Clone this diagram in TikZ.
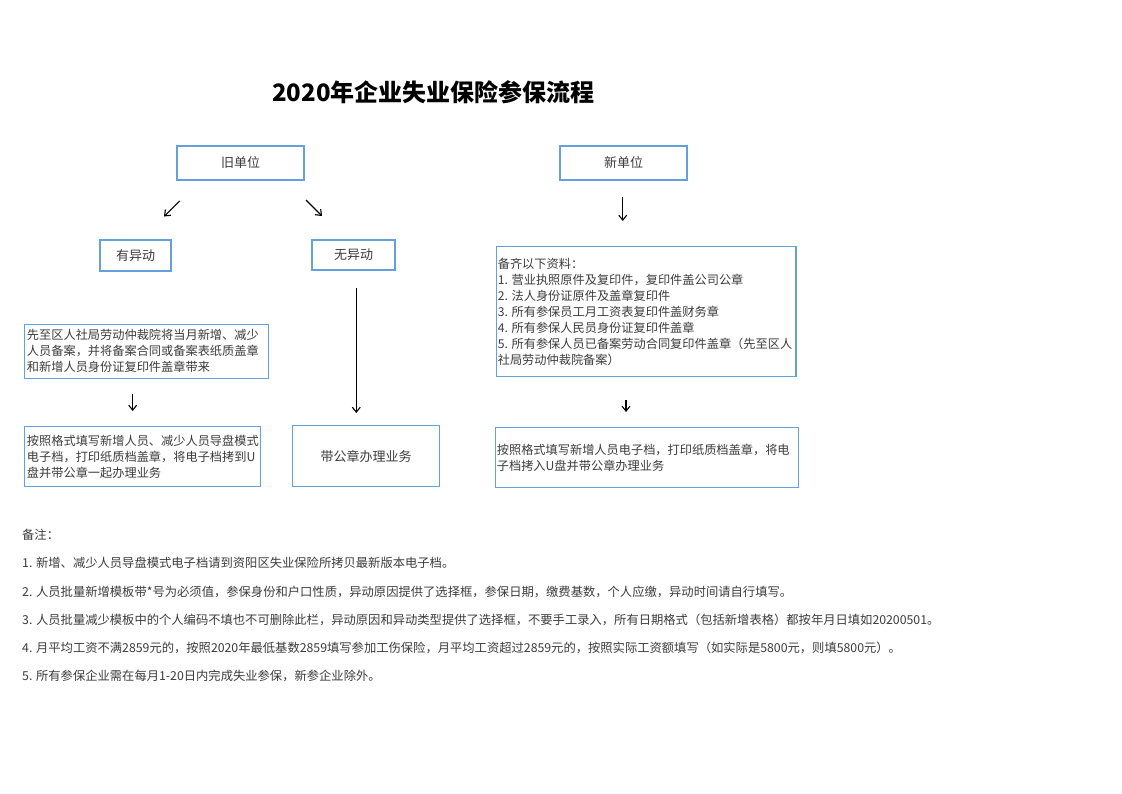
\documentclass[tikz,border=0pt]{standalone}
\usepackage{fontspec}
\setmainfont{Noto Sans CJK SC}
\usetikzlibrary{arrows.meta}
\definecolor{boxblue}{RGB}{100,160,220}
\definecolor{txtgray}{RGB}{60,60,60}
\tikzset{
  box/.style={draw=boxblue, line width=1.1pt, rectangle, inner sep=0pt},
  boxtxt/.style={anchor=west, inner sep=0pt, align=left, text=txtgray, font=\fontsize{12.2}{16}\selectfont},
  ctxt/.style={inner sep=0pt, text=txtgray, font=\fontsize{13}{16}\selectfont},
  note/.style={anchor=west, inner sep=0pt, text=txtgray, font=\fontsize{12.3}{16}\selectfont},
  arr/.style={-{Straight Barb[length=5pt,width=8pt]}, line width=1.1pt, black}
}
\begin{document}
\begin{tikzpicture}[x=1pt,y=-1pt]
\useasboundingbox (0,0) rectangle (1122,793);
\fill[white] (0,0) rectangle (1122,793);
% title
\node[anchor=west, inner sep=0pt, font=\fontsize{24}{26}\selectfont\bfseries] (title) at (272,92) {2020年企业失业保险参保流程};
% top boxes
\node[box, minimum width=127pt, minimum height=34pt] (old) at (240.5,163) {};
\node[ctxt] (oldt) at (old.center) {旧单位};
\node[box, minimum width=127pt, minimum height=34pt] (new) at (623.5,163) {};
\node[ctxt] (newt) at (new.center) {新单位};
\node[box, minimum width=71pt, minimum height=31pt] (chg) at (135.5,255.5) {};
\node[ctxt] (chgt) at (chg.center) {有异动};
\node[box, minimum width=83pt, minimum height=30pt] (nochg) at (353.5,255) {};
\node[ctxt] (nochgt) at (nochg.center) {无异动};
% left column
\node[box, minimum width=244.4pt, minimum height=54.3pt] (l1) at (146.5,351.2) {};
\node[boxtxt] (l1t) at ([xshift=3pt]l1.west) {先至区人社局劳动仲裁院将当月新增、减少\\人员备案，并将备案合同或备案表纸质盖章\\和新增人员身份证复印件盖章带来};
\node[box, minimum width=236pt, minimum height=60pt] (l2) at (142.3,456.7) {};
\node[boxtxt] (l2t) at ([xshift=3pt]l2.west) {按照格式填写新增人员、减少人员导盘模式\\电子档，打印纸质档盖章，将电子档拷到U\\盘并带公章一起办理业务};
% middle
\node[box, minimum width=146.6pt, minimum height=61pt] (m1) at (366,456.2) {};
\node[ctxt] (m1t) at (m1.center) {带公章办理业务};
% right column
\node[box, minimum width=299.3pt, minimum height=130pt] (r1) at (646.3,311.7) {};
\node[boxtxt] (r1t) at ([xshift=1.5pt]r1.west) {备齐以下资料：\\1. 营业执照原件及复印件，复印件盖公司公章\\2. 法人身份证原件及盖章复印件\\3. 所有参保员工月工资表复印件盖财务章\\4. 所有参保人民员身份证复印件盖章\\5. 所有参保人员已备案劳动合同复印件盖章（先至区人\\社局劳动仲裁院备案）};
\node[box, minimum width=303pt, minimum height=59.6pt] (r2) at (647.2,457.5) {};
\node[boxtxt] (r2t) at ([xshift=1.5pt]r2.west) {按照格式填写新增人员电子档，打印纸质档盖章，将电\\子档拷入U盘并带公章办理业务};
% arrows (free-standing)
\coordinate (a1s) at (179.7,201); \coordinate (a1e) at (164,216.5);
\coordinate (a2s) at (306,200); \coordinate (a2e) at (322,216);
\coordinate (a3s) at (622.7,197); \coordinate (a3e) at (622.7,221);
\coordinate (a4s) at (132.7,394); \coordinate (a4e) at (132.7,411);
\coordinate (a5s) at (356.3,288); \coordinate (a5e) at (356.3,413);
\coordinate (a6s) at (626,399.5); \coordinate (a6e) at (626,412);
\draw[arr] (a1s) -- (a1e);
\draw[arr] (a2s) -- (a2e);
\draw[arr] (a3s) -- (a3e);
\draw[arr] (a4s) -- (a4e);
\draw[arr] (a5s) -- (a5e);
\draw[arr] (a6s) -- (a6e);
% notes
\node[note] (n0) at (22,535) {备注：};
\node[note] (n1) at (22,563) {1. 新增、减少人员导盘模式电子档请到资阳区失业保险所拷贝最新版本电子档。};
\node[note] (n2) at (22,591.5) {2. 人员批量新增模板带*号为必须值，参保身份和户口性质，异动原因提供了选择框，参保日期，缴费基数，个人应缴，异动时间请自行填写。};
\node[note] (n3) at (22,620) {3. 人员批量减少模板中的个人编码不填也不可删除此栏，异动原因和异动类型提供了选择框，不要手工录入，所有日期格式（包括新增表格）都按年月日填如20200501。};
\node[note] (n4) at (22,648) {4. 月平均工资不满2859元的，按照2020年最低基数2859填写参加工伤保险，月平均工资超过2859元的，按照实际工资额填写（如实际是5800元，则填5800元）。};
\node[note] (n5) at (22,676) {5. 所有参保企业需在每月1-20日内完成失业参保，新参企业除外。};
\end{tikzpicture}
\end{document}
